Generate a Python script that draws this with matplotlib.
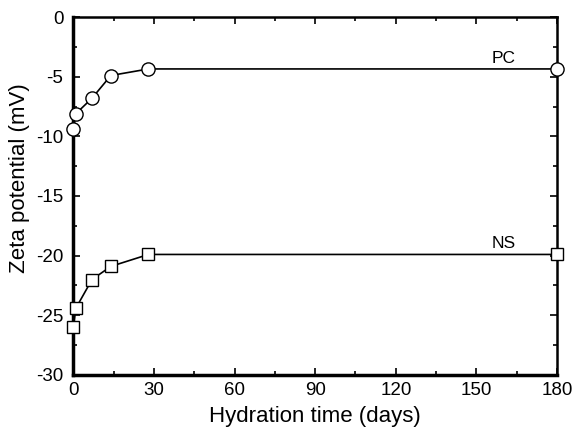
import matplotlib
matplotlib.use("Agg")
import matplotlib.pyplot as plt
from matplotlib.ticker import MultipleLocator

plt.rcParams['font.family'] = ['Liberation Sans', 'DejaVu Sans']
plt.rcParams['axes.unicode_minus'] = False

# hydration time (days) and zeta potential (mV)
days = [0, 1, 7, 14, 28, 180]
pc_zeta = [-9.4, -8.1, -6.8, -4.9, -4.35, -4.35]
ns_zeta = [-26.0, -24.4, -22.0, -20.9, -19.9, -19.9]
series_labels = ["PC", "NS"]

fig = plt.figure(figsize=(5.72, 4.37), dpi=100)
ax = fig.add_axes([0.128, 0.142, 0.846, 0.819])

ax.plot(days, pc_zeta, color='black', lw=1.2, marker='o', ms=9.5,
        mfc='white', mec='black', mew=1.0, clip_on=False, zorder=3)
ax.plot(days, ns_zeta, color='black', lw=1.2, marker='s', ms=9,
        mfc='white', mec='black', mew=1.0, clip_on=False, zorder=3)

ax.text(160, -3.45, series_labels[0], fontsize=12.5, ha='center', va='center')
ax.text(160, -18.95, series_labels[1], fontsize=12.5, ha='center', va='center')

ax.set_xlim(0, 180)
ax.set_ylim(-30, 0)
ax.xaxis.set_major_locator(MultipleLocator(30))
ax.xaxis.set_minor_locator(MultipleLocator(15))
ax.yaxis.set_major_locator(MultipleLocator(5))
ax.yaxis.set_minor_locator(MultipleLocator(2.5))
ax.tick_params(which='both', direction='in', top=True, right=True,
               labelsize=13.5, width=1.2)
ax.tick_params(which='major', length=5)
ax.tick_params(which='minor', length=3)
ax.tick_params(axis='y', which='major', pad=7)
ax.tick_params(axis='x', which='major', pad=5)
for side in ['left', 'bottom']:
    ax.spines[side].set_linewidth(2.5)
for side in ['top', 'right']:
    ax.spines[side].set_linewidth(1.8)

ax.set_xlabel("Hydration time (days)", fontsize=16, labelpad=5)
ax.set_ylabel("Zeta potential (mV)", fontsize=16)
ax.yaxis.set_label_coords(-0.09, 0.55)

fig.savefig("out.png", dpi=100)
